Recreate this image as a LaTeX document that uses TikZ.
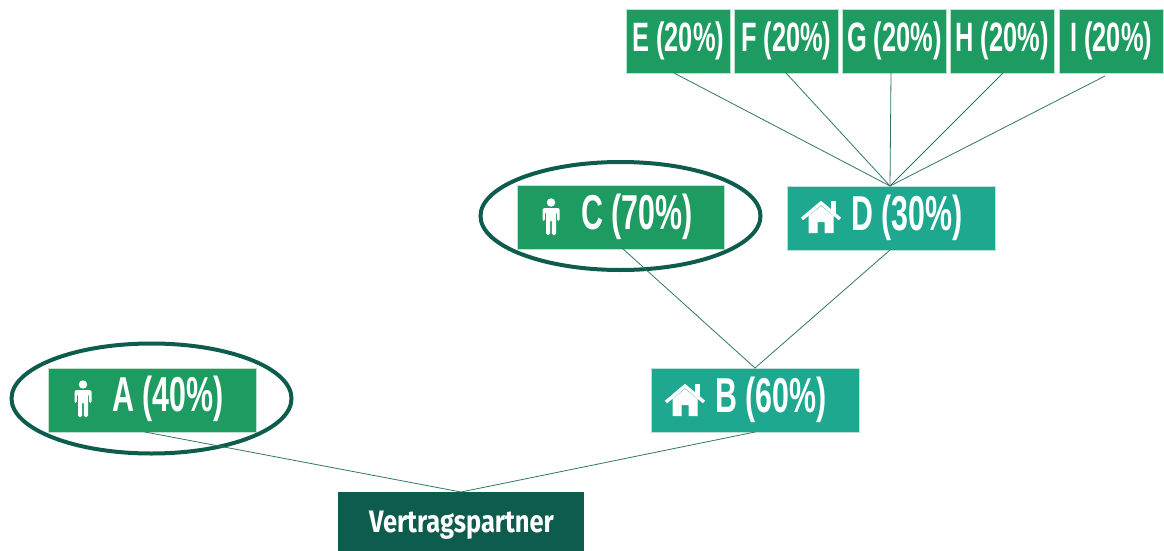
\documentclass[tikz,border=0pt]{standalone}
\usepackage{fontspec}
\usetikzlibrary{shapes.geometric}
\setmainfont{Liberation Sans}
\newfontfamily\condbig[FakeStretch=0.62]{Liberation Sans}
\newfontfamily\condmid[FakeStretch=0.82]{Fira Sans}
\definecolor{pgreen}{HTML}{1E9B61}
\definecolor{hteal}{HTML}{1DA88F}
\definecolor{dgreen}{HTML}{0E5C4E}
\tikzset{
  box/.style={draw=white!70!pgreen,line width=0.6pt,minimum width=#1,inner sep=0pt,anchor=north west},
  bigbox/.style={box=208pt,minimum height=64pt},
  smallbox/.style={box=104pt,minimum height=64pt,fill=pgreen,text=white,font=\condbig\bfseries\fontsize{41}{41}\selectfont},
  biglabel/.style={anchor=west,inner sep=0pt,text=white,font=\condbig\bfseries\fontsize{49}{49}\selectfont},
  link/.style={draw=dgreen!85!white,line width=0.8pt},
  ring/.style={draw=dgreen,line width=4pt},
  person/.pic={
    \fill[white] (0,-14.5) circle (4.2);
    \fill[white,rounded corners=1.5pt] (-8.5,-9) -- (8.5,-9) -- (8.5,4) -- (6.2,4) -- (6.2,-5) -- (5,-5) -- (5,18) -- (0.8,18) -- (0.8,3) -- (-0.8,3) -- (-0.8,18) -- (-5,18) -- (-5,-5) -- (-6.2,-5) -- (-6.2,4) -- (-8.5,4) -- cycle;
  },
  house/.pic={
    \fill[white] (-12.5,0) -- (-12.5,17) -- (-3.5,17) -- (-3.5,6) -- (3.5,6) -- (3.5,17) -- (12.5,17) -- (12.5,0) -- (0,-10) -- cycle;
    \draw[white,line width=3.4pt] (-19,3) -- (0,-13) -- (19,3);
    \fill[white] (9.5,-15) rectangle (14.5,-3);
  }
}
\begin{document}
\begin{tikzpicture}[x=1pt,y=-1pt]
\useasboundingbox (0,0) rectangle (1164,551);
\node[smallbox] (E) at (626,9) {E\,(20\%)};
\node[smallbox] (F) at (734,9) {F\,(20\%)};
\node[smallbox] (G) at (842,9) {G\,(20\%)};
\node[smallbox] (H) at (950,9) {H\,(20\%)};
\node[smallbox] (I) at (1059,9) {I\,(20\%)};
\node[bigbox,fill=pgreen,minimum width=207pt] (C) at (517,185) {};
\node[bigbox,fill=hteal] (D) at (787,186) {};
\node[bigbox,fill=hteal] (B) at (651,368) {};
\node[bigbox,fill=pgreen] (A) at (48,368) {};
\node[box=246pt,minimum height=62pt,fill=dgreen,draw=none,text=white,font=\condmid\bfseries\fontsize{31}{31}\selectfont] (V) at (338,492) {};
\node[anchor=center,inner sep=0pt,text=white,font=\condmid\bfseries\fontsize{31}{31}\selectfont] (Vt) at (461.5,525) {Vertragspartner};
\node[biglabel] (At) at (112,399) {A\,(40\%)};
\node[biglabel] (Ct) at (581,217) {C\,(70\%)};
\node[biglabel] (Dt) at (851,218) {D\,(30\%)};
\node[biglabel] (Bt) at (715,400) {B\,(60\%)};
\pic at (83,399) {person};
\pic at (551,217) {person};
\pic at (821,216) {house};
\pic at (685,399) {house};
\node[ring,ellipse,minimum width=280pt,minimum height=110pt,inner sep=0pt] (RA) at (151.5,398.5) {};
\node[ring,ellipse,minimum width=280pt,minimum height=108pt,inner sep=0pt] (RC) at (620.5,216) {};
\coordinate (hubD) at (890,186);
\coordinate (Eo) at (674,73);
\coordinate (Fo) at (786,73);
\coordinate (Go) at (891,73);
\coordinate (Ho) at (1003,73);
\coordinate (Io) at (1105,76);
\coordinate (Co) at (622,248);
\coordinate (Do) at (890,250);
\coordinate (Bi) at (755,368);
\coordinate (Ao) at (145,432);
\coordinate (Bo) at (755,432);
\coordinate (Vi) at (461,492);
\draw[link] (Eo) -- (hubD);
\draw[link] (Fo) -- (hubD);
\draw[link] (Go) -- (hubD);
\draw[link] (Ho) -- (hubD);
\draw[link] (Io) -- (hubD);
\draw[link] (Co) -- (Bi);
\draw[link] (Do) -- (Bi);
\draw[link] (Ao) -- (Vi);
\draw[link] (Bo) -- (Vi);
\end{tikzpicture}
\end{document}
